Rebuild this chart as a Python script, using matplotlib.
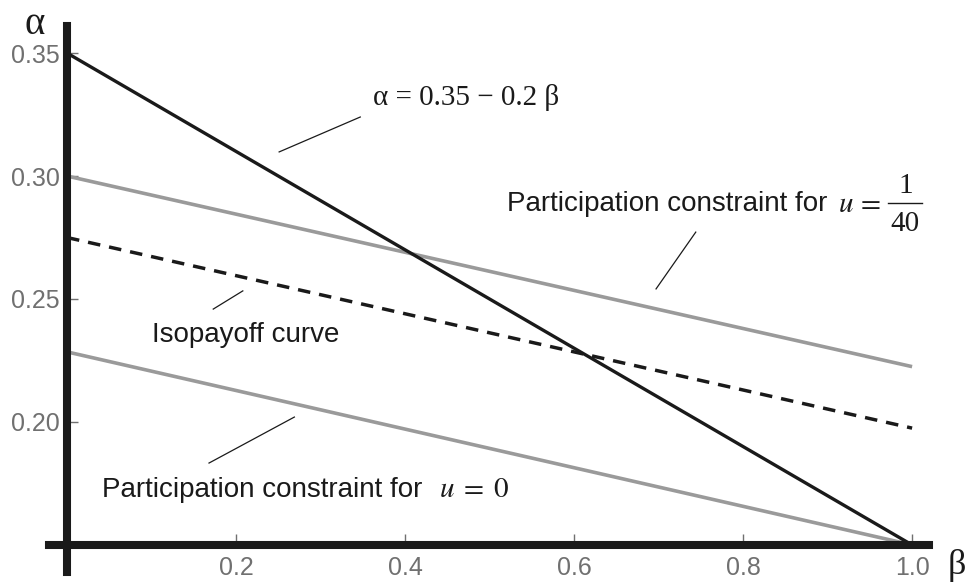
import numpy as np
import matplotlib
matplotlib.use("Agg")
import matplotlib.pyplot as plt

plt.rcParams['font.family'] = ['Liberation Sans', 'DejaVu Sans']
plt.rcParams['mathtext.fontset'] = 'stix'

# donnees : droites entre beta = 0 et beta = 1
beta = [0.0, 1.0]
incentive = [0.35, 0.15]        # alpha = 0.35 - 0.2 beta
pc_u_140 = [0.300, 0.2225]      # contrainte de participation u = 1/40
isopayoff = [0.275, 0.1975]     # courbe d'isopaiement
pc_u_0 = [0.2285, 0.15]         # contrainte de participation u = 0

xticks = [0.2, 0.4, 0.6, 0.8, 1.0]
xtick_labels = ["0.2", "0.4", "0.6", "0.8", "1.0"]
yticks = [0.20, 0.25, 0.30, 0.35]
ytick_labels = ["0.20", "0.25", "0.30", "0.35"]

black = '#1a1a1a'
gray = '#9a9a9a'
tick_gray = '#707070'

W, H = 969, 587
fig = plt.figure(figsize=(W / 100, H / 100), dpi=100)
ax = fig.add_axes([49.3 / W, 15 / H, (929 - 49.3) / W, (572 - 26) / H])
ax.set_xlim(-0.021, 1.02)
ax.set_ylim(0.139, 0.361)

ax.plot(beta, pc_u_140, color=gray, lw=2.6, solid_capstyle='butt')
ax.plot(beta, pc_u_0, color=gray, lw=2.6, solid_capstyle='butt')
ax.plot(beta, isopayoff, color=black, lw=2.5, linestyle=(0, (3.6, 2.6)))
ax.plot(beta, incentive, color=black, lw=2.4, solid_capstyle='butt')

# axes epais
for s in ['top', 'right']:
    ax.spines[s].set_visible(False)
ax.spines['left'].set_position(('data', 0))
ax.spines['bottom'].set_position(('data', 0.15))
for s in ['left', 'bottom']:
    ax.spines[s].set_linewidth(5.8)
    ax.spines[s].set_color(black)
    ax.spines[s].set_zorder(5)

ax.set_xticks(xticks)
ax.set_xticklabels(xtick_labels)
ax.set_yticks(yticks)
ax.set_yticklabels(ytick_labels)
ax.tick_params(axis='both', direction='in', length=8, width=1, color=tick_gray,
               labelcolor=tick_gray, labelsize=18)
ax.tick_params(axis='x', pad=8)
ax.tick_params(axis='y', pad=5)

# traits de rappel
leaders = [
    ((0.251, 0.3098), (0.347, 0.324)),
    ((0.697, 0.2541), (0.744, 0.2772)),
    ((0.173, 0.2459), (0.208, 0.2533)),
    ((0.168, 0.1833), (0.269, 0.2020)),
]
for (x0, y0), (x1, y1) in leaders:
    ax.plot([x0, x1], [y0, y1], color=black, lw=0.9)

ax.text(0.362, 0.3321, "α = 0.35 − 0.2 β", family='Liberation Serif', fontsize=21,
        va='center', ha='left', color=black)

# contrainte u = 1/40
ax.text(0.521, 0.2885, "Participation constraint for", fontsize=20,
        va='center', ha='left', color=black)
ax.text(0.912, 0.2887, r"$u\,=$", fontsize=21, va='center', ha='left', color=black)
ax.text(0.992, 0.2960, "1", family='Liberation Serif', fontsize=21,
        va='center', ha='center', color=black)
ax.text(0.992, 0.2805, "40", family='Liberation Serif', fontsize=21,
        va='center', ha='center', color=black)
ax.plot([0.972, 1.012], [0.2889, 0.2889], color=black, lw=1.0, clip_on=False)

ax.text(0.1006, 0.2354, "Isopayoff curve", fontsize=20, va='center', ha='left', color=black)

# contrainte u = 0
ax.text(0.0414, 0.1724, "Participation constraint for", fontsize=20,
        va='center', ha='left', color=black)
ax.text(0.440, 0.1727, r"$u\;=\;0$", fontsize=21, va='center', ha='left', color=black)

fig.text(35 / W, 1 - 25 / H, "α", family='Liberation Serif', fontsize=28,
         ha='center', va='center', color=black)
fig.text(957 / W, 1 - 566 / H, "β", family='Liberation Serif', fontsize=26,
         ha='center', va='center', color=black)

fig.savefig("out.png", dpi=100)
